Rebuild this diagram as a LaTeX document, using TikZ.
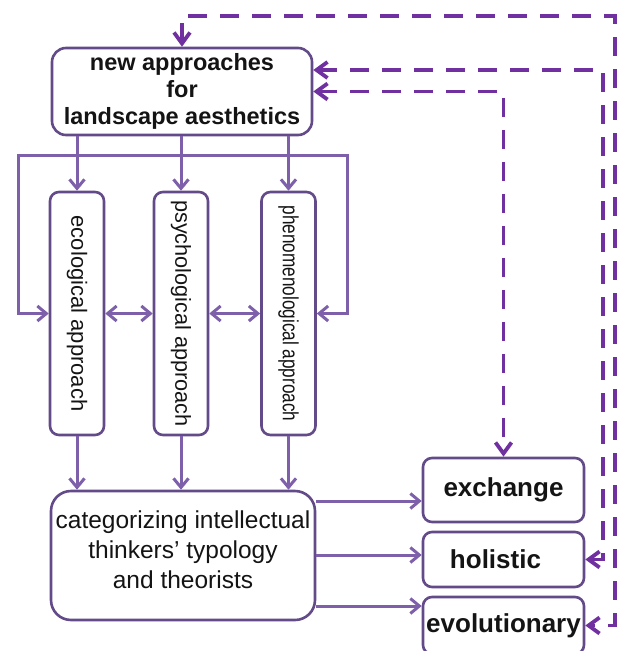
\documentclass[tikz,border=0pt]{standalone}
\usepackage{fontspec}
\setmainfont{Liberation Sans}
\usepackage{graphicx}
\usetikzlibrary{arrows.meta,calc}
\definecolor{boxc}{HTML}{634A88}
\definecolor{arrc}{HTML}{7E60AA}
\definecolor{dashc}{HTML}{7030A0}
\definecolor{txt}{HTML}{141414}
\begin{document}
\begin{tikzpicture}[x=1pt,y=-1pt,
  box/.style={draw=boxc, line width=2.6pt, rounded corners=9pt, fill=white, inner sep=0pt, text=txt, align=center},
  flow/.style={draw=arrc, line width=3pt},
  tip/.style={-{Straight Barb[length=9pt,width=15pt]}},
  tips/.style={{Straight Barb[length=9pt,width=15pt]}-{Straight Barb[length=9pt,width=15pt]}},
  dflow/.style={draw=dashc, line width=3.8pt, dash pattern=on 19pt off 13pt},
  dtips/.style={{Straight Barb[length=11pt,width=16pt]}-{Straight Barb[length=11pt,width=16pt]}},
  rbox/.style={box, minimum width=161pt, font=\bfseries\fontsize{26}{30}\selectfont}
]
\useasboundingbox (0,0) rectangle (617,651);

% main boxes
\node[box, rounded corners=14pt, minimum width=260pt, minimum height=87pt,
      font=\bfseries\fontsize{23.5}{27}\selectfont] (top) at (182,91.5)
      {new approaches\\for\\landscape aesthetics};

\node[box, minimum width=54pt, minimum height=243pt, font=\fontsize{22}{26}\selectfont]
  (eco) at (77,313.5) {\rotatebox{-90}{ecological approach}};
\node[box, minimum width=54pt, minimum height=243pt, font=\fontsize{21.7}{26}\selectfont]
  (psych) at (181,313.5) {\rotatebox{-90}{psychological approach}};
\node[box, minimum width=54pt, minimum height=243pt, font=\fontsize{22}{26}\selectfont]
  (phen) at (288.5,313.5) {\rotatebox{-90}{\scalebox{0.78}[1]{phenomenological approach}}};

\node[box, rounded corners=20pt, minimum width=264pt, minimum height=129pt] (cat) at (183,555.5) {};
\node[font=\fontsize{24.5}{30}\selectfont, align=center, text=txt, inner sep=0pt] (catt) at (183,550)
  {categorizing intellectual\\thinkers’ typology\\and theorists};

\node[rbox, minimum height=64pt] (exch) at (503.5,490) {exchange};
\node[rbox, minimum height=55pt] (holi) at (503.5,559.5) {\hspace*{-16pt}holistic};
\node[rbox, minimum height=57pt] (evol) at (503.5,625.5) {evolutionary};

% solid connectors
\draw[flow, tip] (top.south -| eco.north) -- (eco.north);
\draw[flow, tip] (top.south -| psych.north) -- (psych.north);
\draw[flow, tip] (top.south -| phen.north) -- (phen.north);
\coordinate (bl) at (18,155);
\coordinate (br) at (347,155);
\draw[flow, tips] (eco.west) -| (bl) -- (br) |- (phen.east);
\draw[flow, tips] (eco.east) -- (psych.west);
\draw[flow, tips] (psych.east) -- (phen.west);
\draw[flow, tip] (eco.south) -- (eco.south |- cat.north);
\draw[flow, tip] (psych.south) -- (psych.south |- cat.north);
\draw[flow, tip] (phen.south) -- (phen.south |- cat.north);
\draw[flow, tip] ([yshift=54.5pt]cat.east) -- ([yshift=54.5pt]cat.east -| exch.west);
\draw[flow, tip] ([yshift=0.5pt]cat.east) -- ([yshift=0.5pt]cat.east -| holi.west);
\draw[flow, tip] ([yshift=-50.5pt]cat.east) -- ([yshift=-50.5pt]cat.east -| evol.west);

% dashed connectors
\coordinate (c1) at (615,16);
\coordinate (c2) at (603,70);
\draw[dflow, dtips] (top.north) |- (c1) |- (evol.east);
\draw[dflow, dtips] ([yshift=21.5pt]top.east) -- (c2) |- (holi.east);
\draw[dflow, dtips] (top.east) -| (exch.north);
\end{tikzpicture}
\end{document}
